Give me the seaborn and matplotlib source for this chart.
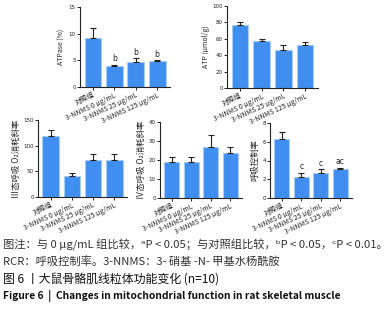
import matplotlib
matplotlib.use('Agg')
import matplotlib.pyplot as plt
import seaborn as sns
import pandas as pd
import numpy as np

sns.set_style('ticks')
plt.rcParams['font.family'] = ['Noto Sans CJK SC', 'DejaVu Sans']
plt.rcParams['axes.unicode_minus'] = False

groups = ['对照组', '3-NNMS 0 μg/mL', '3-NNMS 25 μg/mL', '3-NNMS 125 μg/mL']

atpase_mean = [9.1, 3.9, 4.7, 4.9]
atpase_err = [1.9, 0.3, 0.7, 0.1]
atpase_sig = ['', 'b', 'b', 'b']

atp_mean = [77, 57, 46, 52]
atp_err = [3, 2.5, 6, 4.5]
atp_sig = ['', '', '', '']

s3_mean = [118, 40, 72, 72]
s3_err = [12, 6, 12, 11]
s3_sig = ['', '', '', '']

s4_mean = [19, 18.8, 27, 23.5]
s4_err = [2.5, 3, 6.2, 3.2]
s4_sig = ['', '', '', '']

rcr_mean = [6.3, 2.2, 2.7, 3.1]
rcr_err = [0.75, 0.5, 0.35, 0.15]
rcr_sig = ['', 'c', 'c', 'ac']

bar_color = '#3f8ef0'
edge_color = '#a6cbf5'

W, H = 388, 310
fig = plt.figure(figsize=(W / 100, H / 100), dpi=100)

def rect(l, r, t, b):
    return [l / W, 1 - b / H, (r - l) / W, (b - t) / H]

def panel(box, mean, err, sig, ylabel, ymax, step, ylsize):
    ax = fig.add_axes(box)
    df = pd.DataFrame({'g': groups, 'v': mean})
    sns.barplot(data=df, x='g', y='v', color=bar_color, width=0.78,
                edgecolor=edge_color, linewidth=0.8, saturation=1, ax=ax)
    x = np.arange(len(mean))
    ax.errorbar(x, mean, yerr=[np.zeros(len(err)), err], fmt='none',
                ecolor='#222222', elinewidth=0.8, capsize=2.5, capthick=0.8)
    for xi, m, e, s in zip(x, mean, err, sig):
        if s:
            ax.text(xi, m + e + ymax * 0.02, s, ha='center', va='bottom',
                    fontsize=5.5, color='#222222', family=['DejaVu Sans'])
    ax.set_ylim(0, ymax)
    ax.set_xlim(-0.6, len(mean) - 0.4)
    ax.set_yticks(np.arange(0, ymax + 0.01, step))
    ax.set_yticklabels([f'{v:g}' for v in np.arange(0, ymax + 0.01, step)],
                       fontsize=4, family=['DejaVu Sans'])
    ax.set_xticks(x)
    ax.set_xticklabels(groups, rotation=25, ha='right', rotation_mode='anchor',
                       fontsize=5, style='italic')
    ax.set_xlabel('')
    ax.set_ylabel(ylabel, fontsize=ylsize, labelpad=2)
    ax.tick_params(axis='both', length=2, width=0.7, pad=1, colors='#222222')
    sns.despine(ax=ax)
    for sp in ['left', 'bottom']:
        ax.spines[sp].set_linewidth(0.8)
        ax.spines[sp].set_color('#222222')
    ax.patch.set_alpha(0)
    return ax

panel(rect(80, 170, 7, 87), atpase_mean, atpase_err, atpase_sig,
      'ATPase (%)', 15, 5, 5)
panel(rect(227, 318, 6, 88), atp_mean, atp_err, atp_sig,
      'ATP (μmol/g)', 100, 20, 5)
panel(rect(38, 127, 120, 197), s3_mean, s3_err, s3_sig,
      'Ⅲ态呼吸 O₂消耗斜率', 150, 50, 6)
panel(rect(160, 242, 122, 198), s4_mean, s4_err, s4_sig,
      'Ⅳ态呼吸 O₂消耗斜率', 40, 10, 6)
panel(rect(270, 352, 123, 198), rcr_mean, rcr_err, rcr_sig,
      '呼吸控制率', 8, 2, 6)

cap_color = '#333333'
fig.text(3 / W, 1 - 245 / H, '图注：与 0 μg/mL 组比较，ᵃP < 0.05；与对照组比较，ᵇP < 0.05，ᶜP < 0.01。',
         fontsize=8.1, color=cap_color, va='center')
fig.text(3 / W, 1 - 262 / H, 'RCR：呼吸控制率。3-NNMS：3- 硝基 -N- 甲基水杨酰胺',
         fontsize=8.1, color=cap_color, va='center')
fig.text(3 / W, 1 - 279 / H, '图 6 丨大鼠骨骼肌线粒体功能变化 (n=10)',
         fontsize=8.6, color='#111111', va='center')
fig.text(3 / W, 1 - 296 / H, 'Figure 6  |  Changes in mitochondrial function in rat skeletal muscle',
         fontsize=7.4, color='#111111', va='center', weight='bold')

fig.savefig('out.png', dpi=100)
